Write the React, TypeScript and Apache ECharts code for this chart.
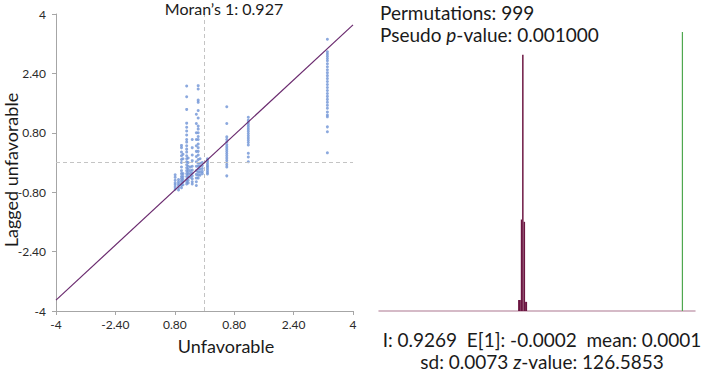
import React, { useEffect, useRef } from "react";
import * as echarts from "echarts";

// Moran scatter: observed values (x) and their spatial lags (y), grouped by x value
const columnX = [-0.79, -0.7, -0.62, -0.58, -0.48, -0.44, -0.38, -0.33, -0.22, -0.17, -0.12, -0.06, 0.08, 0.6, 1.18, 3.31];
const columnY = [
  [-0.72, -0.66, -0.6, -0.55, -0.48, -0.4, -0.33],
  [-0.74, -0.68, -0.62, -0.57, -0.52, -0.46],
  [-0.68, -0.62, -0.56, -0.5, -0.44, -0.38, -0.3, -0.22, -0.12, 0.0, 0.08, 0.18, 0.28, 0.4, 0.46],
  [-0.6, -0.52, -0.45, -0.38, -0.3, 0.1, 0.22],
  [2.06, 1.77, 1.43, 1.06, 0.95, 0.85, 0.74, 0.62, 0.55, 0.45, 0.36, 0.28, 0.18, 0.1, 0.02, -0.06, -0.14, -0.22, -0.3, -0.38, -0.46, -0.52, -0.58],
  [-0.55, -0.48, -0.4, -0.32, -0.25, -0.18, -0.1, 0.0, 0.12],
  [-0.4, -0.3, -0.22, -0.12],
  [0.62, 0.4, 0.2, 0.05, -0.1, -0.2, -0.28, -0.36, -0.44, -0.52, -0.58],
  [1.3, 1.05, 0.8, 0.62, 0.45, 0.3, 0.16, 0.02, -0.1, -0.22, -0.32, -0.42, -0.52, -0.62],
  [2.07, 1.98, 1.68, 1.62, 1.4, 1.2, 0.98, 0.9, 0.8, 0.7, 0.62, 0.5, 0.4, 0.3, 0.2, 0.08, -0.02, -0.1, -0.18, -0.26, -0.34, -0.42],
  [0.1, -0.02, -0.1, -0.18, -0.26, -0.34],
  [0.0, -0.08, -0.16, -0.24, -0.3],
  [0.1, 0.06, 0.02, -0.03, -0.08, -0.12, -0.17, -0.22, -0.27, -0.31],
  [1.5, 1.05, 0.69, 0.62, 0.55, 0.48, 0.42, 0.36, 0.3, 0.24, 0.18, 0.12, 0.06, 0.0, -0.06, -0.12, -0.36],
  [1.22, 1.14, 1.08, 1.02, 0.96, 0.9, 0.84, 0.78, 0.72, 0.66, 0.6, 0.54, 0.47, 0.25, 0.15, 0.02],
  [3.32, 2.98, 2.92, 2.86, 2.8, 2.74, 2.66, 2.58, 2.5, 2.42, 2.34, 2.26, 2.18, 2.1, 2.02, 1.94, 1.86, 1.78, 1.7, 1.62, 1.54, 1.46, 1.36, 1.28, 1.23, 0.96, 0.83, 0.26],
];

const moranI = 0.927;
const axisTicks = [-4, -2.4, -0.8, 0.8, 2.4, 4];
const xTickLabels = ["-4", "-2.40", "0.80", "0.80", "2.40", "4"];
const yTickLabels = ["-4", "-2.40", "-0.80", "0.80", "2.40", "4"];

// Reference distribution of I under 999 permutations: [binStart, binEnd, count]
const histBinStart = [-0.0273, -0.0116, -0.004, 0.0046, 0.0133];
const histBinEnd = [-0.0116, -0.004, 0.0046, 0.0133, 0.025];
const histCounts = [24, 200, 560, 195, 20];
const observedI = 0.9269;
const histYMax = 610;

const FONT = "Lato";

function tickLabel(labels: string[]) {
  return (v: number) => {
    const idx = axisTicks.findIndex((t) => Math.abs(t - v) < 1e-6);
    return idx >= 0 ? labels[idx] : "";
  };
}

export default function App() {
  const ref = useRef<HTMLDivElement>(null);

  useEffect(() => {
    if (!ref.current) return;
    const chart = echarts.init(ref.current, null, { renderer: "svg" });

    const scatterData: number[][] = [];
    columnX.forEach((x, i) => columnY[i].forEach((y) => scatterData.push([x, y])));

    const histData = histCounts.map((c, i) => [histBinStart[i], histBinEnd[i], c]);

    const axisGray = "#a6a6a6";
    const richItalic = { i: { fontFamily: FONT, fontSize: 19, fontStyle: "italic", color: "#1a1a1a", lineHeight: 22 } };

    chart.setOption({
      animation: false,
      backgroundColor: "#ffffff",
      textStyle: { fontFamily: FONT },
      title: [
        {
          text: "Moran\u2019s 1: 0.927",
          left: 224,
          top: 0,
          textAlign: "center",
          padding: 0,
          textStyle: { fontFamily: FONT, fontSize: 16, lineHeight: 16, fontWeight: "normal", color: "#1a1a1a" },
        },
        {
          text: "Permutations: 999\nPseudo {i|p}-value: 0.001000",
          left: 380,
          top: 1,
          padding: 0,
          textStyle: {
            fontFamily: FONT,
            fontSize: 19,
            lineHeight: 22,
            fontWeight: "normal",
            color: "#1a1a1a",
            rich: richItalic,
          },
        },
        {
          text: "I: 0.9269  E[1]: -0.0002  mean: 0.0001\nsd: 0.0073 {i|z}-value: 126.5853",
          left: 542,
          top: 328,
          textAlign: "center",
          padding: 0,
          textStyle: {
            fontFamily: FONT,
            fontSize: 19,
            lineHeight: 22,
            fontWeight: "normal",
            color: "#1a1a1a",
            rich: richItalic,
          },
        },
      ],
      graphic: [
        {
          type: "text",
          x: 11,
          y: 170,
          rotation: Math.PI / 2,
          style: {
            text: "Lagged unfavorable",
            font: `18px ${FONT}`,
            fill: "#1a1a1a",
            align: "center",
            verticalAlign: "middle",
          },
        },
        {
          type: "text",
          x: 226,
          y: 346,
          style: {
            text: "Unfavorable",
            font: `18px ${FONT}`,
            fill: "#1a1a1a",
            align: "center",
            verticalAlign: "middle",
          },
        },
      ],
      grid: [
        { left: 56, top: 14, width: 297, height: 297 },
        { left: 379, top: 32, width: 316, height: 279 },
      ],
      xAxis: [
        {
          gridIndex: 0,
          type: "value",
          min: -4,
          max: 4,
          interval: 1.6,
          axisLine: { onZero: false, lineStyle: { color: axisGray, width: 1 } },
          axisTick: { show: true, length: 4, lineStyle: { color: axisGray } },
          axisLabel: { formatter: tickLabel(xTickLabels), color: "#2a2a2a", fontSize: 12, margin: 7, fontFamily: FONT },
          splitLine: { show: false },
        },
        {
          gridIndex: 1,
          type: "value",
          min: -0.835,
          max: 1.0,
          axisLine: { onZero: false, lineStyle: { color: "#c8a4b5", width: 1.5 } },
          axisTick: { show: false },
          axisLabel: { show: false },
          splitLine: { show: false },
        },
      ],
      yAxis: [
        {
          gridIndex: 0,
          type: "value",
          min: -4,
          max: 4,
          interval: 1.6,
          axisLine: { show: true, onZero: false, lineStyle: { color: axisGray, width: 1 } },
          axisTick: { show: true, length: 4, lineStyle: { color: axisGray } },
          axisLabel: { formatter: tickLabel(yTickLabels), color: "#2a2a2a", fontSize: 12, margin: 10, fontFamily: FONT },
          splitLine: { show: false },
        },
        {
          gridIndex: 1,
          type: "value",
          min: 0,
          max: histYMax,
          show: false,
          splitLine: { show: false },
        },
      ],
      series: [
        {
          type: "line",
          xAxisIndex: 0,
          yAxisIndex: 0,
          data: [
            [0, -4],
            [0, 4],
          ],
          symbol: "none",
          lineStyle: { color: "#c4c4c4", width: 1, type: [4, 3] },
          silent: true,
        },
        {
          type: "line",
          xAxisIndex: 0,
          yAxisIndex: 0,
          data: [
            [-4, 0],
            [4, 0],
          ],
          symbol: "none",
          lineStyle: { color: "#c4c4c4", width: 1, type: [4, 3] },
          silent: true,
        },
        {
          type: "scatter",
          xAxisIndex: 0,
          yAxisIndex: 0,
          data: scatterData,
          symbolSize: 3,
          itemStyle: { color: "#6f93d6", opacity: 0.8 },
        },
        {
          type: "line",
          xAxisIndex: 0,
          yAxisIndex: 0,
          data: [
            [-4, -4 * moranI],
            [4, 4 * moranI],
          ],
          symbol: "none",
          lineStyle: { color: "#6a2a6e", width: 1.2 },
        },
        {
          type: "custom",
          xAxisIndex: 1,
          yAxisIndex: 1,
          data: histData,
          encode: { x: [0, 1], y: 2 },
          renderItem: (params: any, api: any) => {
            const p0 = api.coord([api.value(0), api.value(2)]);
            const p1 = api.coord([api.value(1), 0]);
            return {
              type: "rect",
              shape: { x: p0[0], y: p0[1], width: p1[0] - p0[0], height: p1[1] - p0[1] },
              style: { fill: "#6b1541" },
            };
          },
        },
        {
          type: "line",
          xAxisIndex: 1,
          yAxisIndex: 1,
          data: [
            [observedI, 0],
            [observedI, histYMax],
          ],
          symbol: "none",
          lineStyle: { color: "#4fa84f", width: 1.2 },
        },
      ],
    });

    return () => chart.dispose();
  }, []);

  return <div ref={ref} style={{ width: 702, height: 372, position: "fixed", left: 0, top: 0 }} />;
}
